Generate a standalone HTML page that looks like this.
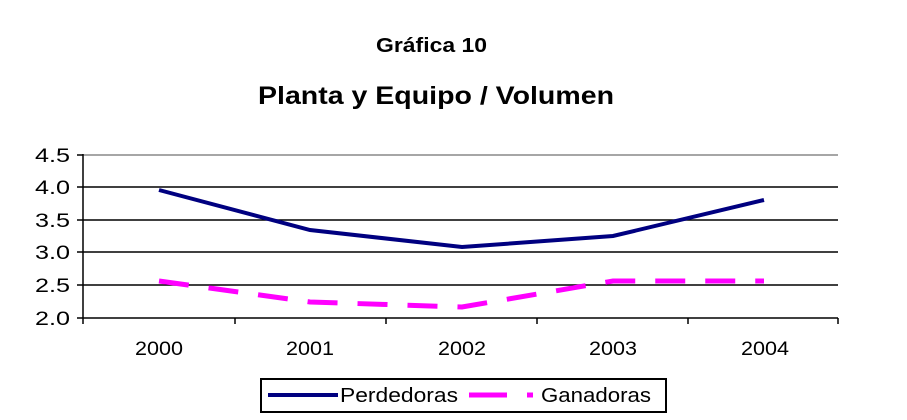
<!DOCTYPE html>
<html><head><meta charset="utf-8"><style>body{margin:0;background:#fff}svg{display:block}text{font-family:"Liberation Sans",Arial,sans-serif}</style></head>
<body>
<svg width="907" height="420" xmlns="http://www.w3.org/2000/svg">
<text x="376" y="52" font-size="20" font-weight="bold" textLength="111" lengthAdjust="spacingAndGlyphs">Gráfica 10</text>
<text x="258" y="104" font-size="25" font-weight="bold" textLength="356" lengthAdjust="spacingAndGlyphs">Planta y Equipo / Volumen</text>
<line x1="83" y1="155" x2="838" y2="155" stroke="#888" stroke-width="1.5"/>
<g stroke="#000" stroke-width="1.5">
<line x1="83" y1="187" x2="838" y2="187"/>
<line x1="83" y1="220" x2="838" y2="220"/>
<line x1="83" y1="252" x2="838" y2="252"/>
<line x1="83" y1="285" x2="838" y2="285"/>
<line x1="83" y1="318" x2="838" y2="318"/>
<line x1="83" y1="154" x2="83" y2="318"/>
<line x1="77" y1="155" x2="83" y2="155"/><line x1="77" y1="187" x2="83" y2="187"/><line x1="77" y1="220" x2="83" y2="220"/><line x1="77" y1="252" x2="83" y2="252"/><line x1="77" y1="285" x2="83" y2="285"/><line x1="77" y1="318" x2="83" y2="318"/>
<line x1="83" y1="318" x2="83" y2="324"/><line x1="235" y1="318" x2="235" y2="324"/><line x1="386" y1="318" x2="386" y2="324"/><line x1="537" y1="318" x2="537" y2="324"/><line x1="688" y1="318" x2="688" y2="324"/><line x1="838" y1="318" x2="838" y2="324"/>
</g>
<g font-size="19">
<text x="35" y="162" textLength="35" lengthAdjust="spacingAndGlyphs">4.5</text>
<text x="35" y="194" textLength="35" lengthAdjust="spacingAndGlyphs">4.0</text>
<text x="35" y="227" textLength="35" lengthAdjust="spacingAndGlyphs">3.5</text>
<text x="35" y="259" textLength="35" lengthAdjust="spacingAndGlyphs">3.0</text>
<text x="35" y="292" textLength="35" lengthAdjust="spacingAndGlyphs">2.5</text>
<text x="35" y="325" textLength="35" lengthAdjust="spacingAndGlyphs">2.0</text>
</g>
<g font-size="19">
<text x="135" y="355" textLength="48" lengthAdjust="spacingAndGlyphs">2000</text>
<text x="286" y="355" textLength="48" lengthAdjust="spacingAndGlyphs">2001</text>
<text x="438" y="355" textLength="48" lengthAdjust="spacingAndGlyphs">2002</text>
<text x="589" y="355" textLength="48" lengthAdjust="spacingAndGlyphs">2003</text>
<text x="741" y="355" textLength="48" lengthAdjust="spacingAndGlyphs">2004</text>
</g>
<polyline points="159,190 310,230 462,247 613,236 764,200" fill="none" stroke="#000080" stroke-width="4"/>
<polyline points="159,281 310,302 462,307 613,281 764,281" fill="none" stroke="#ff00ff" stroke-width="5" stroke-dasharray="30,20"/>
<rect x="261" y="379" width="405" height="33" fill="none" stroke="#000" stroke-width="2"/>
<line x1="268" y1="395" x2="338" y2="395" stroke="#000080" stroke-width="4"/>
<text x="340" y="402" font-size="20" textLength="118" lengthAdjust="spacingAndGlyphs">Perdedoras</text>
<line x1="469" y1="395" x2="507" y2="395" stroke="#ff00ff" stroke-width="5"/>
<line x1="527" y1="395" x2="533" y2="395" stroke="#ff00ff" stroke-width="5"/>
<text x="541" y="402" font-size="20" textLength="110" lengthAdjust="spacingAndGlyphs">Ganadoras</text>
</svg>
</body></html>
